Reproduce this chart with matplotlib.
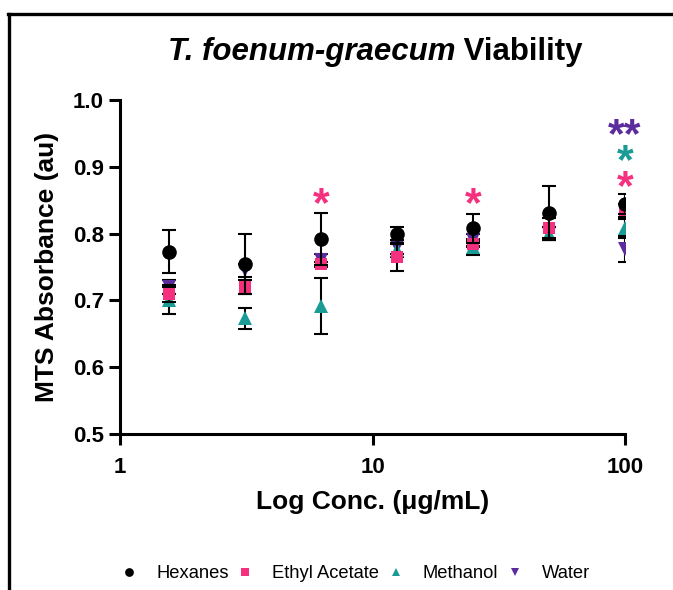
import matplotlib
matplotlib.use("Agg")
import matplotlib.pyplot as plt
from matplotlib.lines import Line2D
import matplotlib.transforms as mtransforms

plt.rcParams['font.family'] = ['Liberation Sans', 'DejaVu Sans']

conc = [1.5625, 3.125, 6.25, 12.5, 25, 50, 100]

hex_mean = [0.773, 0.755, 0.792, 0.800, 0.808, 0.831, 0.845]
hex_err = [0.032, 0.045, 0.039, 0.010, 0.022, 0.040, 0.015]
ea_mean = [0.710, 0.720, 0.754, 0.765, 0.785, 0.808, 0.835]
ea_err = [0.013, 0.011, 0.003, 0.021, 0.004, 0.015, 0.010]
me_mean = [0.700, 0.673, 0.692, 0.775, 0.780, 0.800, 0.808]
me_err = [0.020, 0.016, 0.042, 0.010, 0.012, 0.010, 0.014]
wa_mean = [0.720, 0.745, 0.760, 0.780, 0.790, 0.800, 0.777]
wa_err = [0.011, 0.010, 0.010, 0.010, 0.010, 0.010, 0.020]

series_names = ["Hexanes", "Ethyl Acetate", "Methanol", "Water"]
colors = {"Hexanes": "#000000", "Ethyl Acetate": "#F5317F",
          "Methanol": "#1A9B96", "Water": "#5B2C9C"}

# significance annotations: (conc, y, text, series)
sig_x = [6.25, 25, 100, 100, 100]
sig_y = [0.856, 0.856, 0.882, 0.921, 0.960]
sig_text = ["*", "*", "*", "*", "**"]
sig_series = ["Ethyl Acetate", "Ethyl Acetate", "Ethyl Acetate", "Methanol", "Water"]

W, H = 673, 590
fig = plt.figure(figsize=(W/100, H/100), dpi=100)
ax = fig.add_axes([120/W, 1-434/H, 505/W, 334/H])

data = {
    "Hexanes": (hex_mean, hex_err, "o", 10.5),
    "Ethyl Acetate": (ea_mean, ea_err, "s", 9),
    "Methanol": (me_mean, me_err, "^", 10),
    "Water": (wa_mean, wa_err, "v", 10),
}
order = ["Water", "Methanol", "Ethyl Acetate", "Hexanes"]
handles = {}
for i, name in enumerate(order):
    m, e, mk, ms = data[name]
    ax.errorbar(conc, m, yerr=e, fmt="none", ecolor="black", elinewidth=1.5,
                capsize=5, capthick=1.5, zorder=2 + i * 2)
    h, = ax.plot(conc, m, linestyle="none", marker=mk, markersize=ms,
                 color=colors[name], markeredgewidth=0, zorder=3 + i * 2)
    handles[name] = h

# asterisks: glyph sits high in its box, so shift down a bit
star_tr = ax.transData + mtransforms.ScaledTranslation(0, -9 / 100, fig.dpi_scale_trans)
for x, y, t, s in zip(sig_x, sig_y, sig_text, sig_series):
    ax.text(x, y, t, color=colors[s], fontsize=31, fontweight="bold",
            ha="center", va="center", zorder=20, transform=star_tr)

ax.set_xscale("log")
ax.set_xlim(1, 100)
ax.set_ylim(0.5, 1.0)
ax.set_xticks([1, 10, 100])
ax.set_xticklabels(["1", "10", "100"])
ax.xaxis.set_minor_locator(matplotlib.ticker.NullLocator())
ax.set_yticks([0.5, 0.6, 0.7, 0.8, 0.9, 1.0])
ax.set_yticklabels(["0.5", "0.6", "0.7", "0.8", "0.9", "1.0"])
for sp in ["top", "right"]:
    ax.spines[sp].set_visible(False)
for sp in ["left", "bottom"]:
    ax.spines[sp].set_linewidth(2.2)
ax.tick_params(axis="both", width=2.2, length=8, labelsize=16)
ax.tick_params(axis="y", pad=3.5)
ax.tick_params(axis="x", pad=8.5)
for lab in ax.get_xticklabels() + ax.get_yticklabels():
    lab.set_fontweight("bold")

ax.set_xlabel("Log Conc. (μg/mL)", fontsize=19, fontweight="bold", labelpad=9)
ax.set_ylabel("MTS Absorbance (au)", fontsize=19, fontweight="bold", labelpad=10)

# Title with italic part
fig.canvas.draw()
r = fig.canvas.get_renderer()
t1 = fig.text(0, 0, "T. foenum-graecum", fontsize=22.5, fontweight="bold", style="italic")
t2 = fig.text(0, 0, " Viability", fontsize=22.5, fontweight="bold")
w1 = t1.get_window_extent(r).width
w2 = t2.get_window_extent(r).width
cx = 375
x0 = cx - (w1 + w2) / 2
ty = 1 - 60/H
t1.set_position((x0 / W, ty))
t2.set_position(((x0 + w1) / W, ty))

leg = fig.legend([handles[n] for n in series_names], series_names, loc="center",
                 bbox_to_anchor=(355/W, 1-574/H), ncol=4, frameon=False,
                 fontsize=13.2, markerscale=0.6, handletextpad=0.95, columnspacing=0.42,
                 handlelength=1.0)

# frame lines
fig.add_artist(Line2D([9/W, 9/W], [0, 1-14/H], color="black", linewidth=2.4,
                      transform=fig.transFigure))
fig.add_artist(Line2D([8/W, 1], [1-14/H, 1-14/H], color="black", linewidth=2.4,
                      transform=fig.transFigure))

fig.savefig("out.png", dpi=100)
